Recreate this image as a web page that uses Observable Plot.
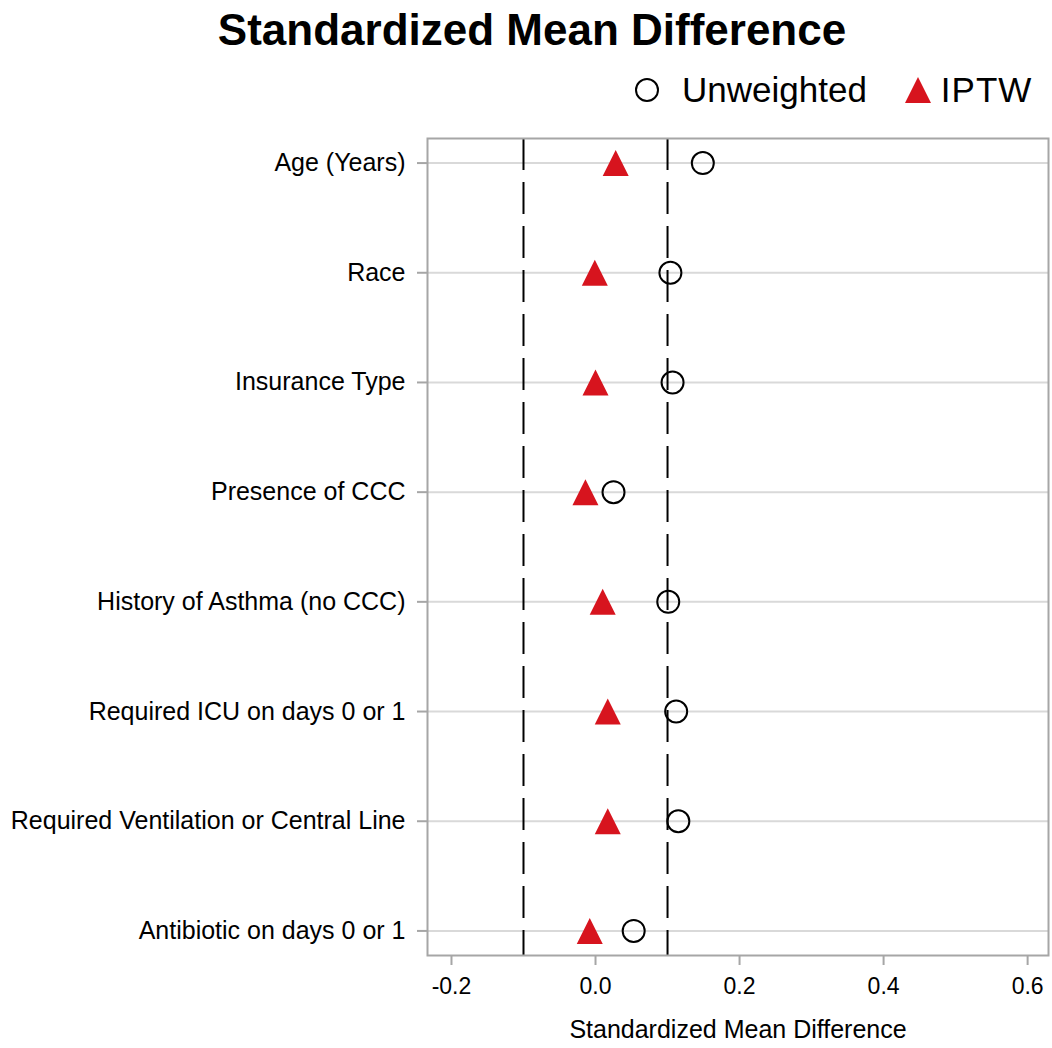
<!DOCTYPE html>
<html>
<head>
<meta charset="utf-8">
<script src="https://cdn.jsdelivr.net/npm/d3@7"></script>
<script src="https://cdn.jsdelivr.net/npm/@observablehq/plot@0.6"></script>
<style>
  html, body { margin: 0; padding: 0; background: #fff; }
  body { width: 1052px; height: 1048px; overflow: hidden; font-family: "Liberation Sans", Arial, sans-serif; }
  #title { position: absolute; left: 0; width: 1064px; top: 3px; text-align: center; font-weight: bold; font-size: 44px; line-height: 54px; color: #000; }
  #legend { position: absolute; left: 632px; top: 68px; height: 44px; display: flex; align-items: center; font-size: 35px; color: #000; }
  #legend .item { display: flex; align-items: center; }
  #legend svg { margin-right: 20px; }
  #chart { position: absolute; left: 0; top: 120px; }
</style>
</head>
<body>
<div id="title">Standardized Mean Difference</div>
<div id="legend">
  <div class="item"><svg width="30" height="30"><circle cx="15" cy="15" r="11" fill="none" stroke="#000" stroke-width="2"/></svg><span>Unweighted</span></div>
  <div class="item" style="margin-left:36px"><svg width="30" height="30"><path d="M15,2L28,28L2,28Z" fill="#d7141e"/></svg><span style="margin-left:-12px; letter-spacing:1px">IPTW</span></div>
</div>
<div id="chart"></div>
<script>
const categories = [
  "Age (Years)",
  "Race",
  "Insurance Type",
  "Presence of CCC",
  "History of Asthma (no CCC)",
  "Required ICU on days 0 or 1",
  "Required Ventilation or Central Line",
  "Antibiotic on days 0 or 1"
];
const unweighted = [0.149, 0.104, 0.107, 0.025, 0.101, 0.112, 0.115, 0.053];
const iptw = [0.028, -0.001, 0.000, -0.014, 0.010, 0.017, 0.017, -0.008];
const xTicks = [-0.2, 0.0, 0.2, 0.4, 0.6];
const refLines = [-0.1, 0.1];

const dataU = categories.map((c, i) => ({category: c, value: unweighted[i]}));
const dataI = categories.map((c, i) => ({category: c, value: iptw[i]}));

const triangleSymbol = {
  draw(context, size) {
    const r = Math.sqrt(size / Math.PI);
    context.moveTo(0, -r);
    context.lineTo(r, r);
    context.lineTo(-r, r);
    context.closePath();
  }
};

const chart = Plot.plot({
  width: 1052,
  height: 928,
  marginLeft: 427,
  marginRight: 4,
  marginTop: 18,
  marginBottom: 93,
  style: {fontFamily: "Liberation Sans, Arial, sans-serif", background: "#fff"},
  x: {domain: [-0.2333, 0.629]},
  y: {type: "point", domain: categories, padding: 0.224, round: false},
  marks: [
    Plot.gridY(categories, {stroke: "#d9d9d9", strokeOpacity: 1, strokeWidth: 2}),
    Plot.ruleX(refLines, {stroke: "#000", strokeWidth: 2, strokeDasharray: "32,12"}),
    Plot.frame({stroke: "#a6a6a6", strokeWidth: 2}),
    Plot.axisX({
      ticks: xTicks,
      tickFormat: d => d.toFixed(1),
      tickSize: 10,
      tickPadding: 12,
      stroke: "#a6a6a6",
      strokeWidth: 2,
      fill: "#000",
      fontSize: 23,
      label: null
    }),
    Plot.text(["Standardized Mean Difference"], {
      frameAnchor: "bottom", dy: 82, fontSize: 25, fill: "#000"
    }),
    Plot.axisY({
      tickSize: 10,
      tickPadding: 12,
      stroke: "#a6a6a6",
      strokeWidth: 2,
      fill: "#000",
      fontSize: 25,
      label: null
    }),
    Plot.dot(dataU, {x: "value", y: "category", r: 11, stroke: "#000", strokeWidth: 2, fill: "none", symbol: "circle"}),
    Plot.dot(dataI, {x: "value", y: "category", r: 13, fill: "#d7141e", stroke: "none", symbol: triangleSymbol})
  ]
});
document.getElementById("chart").appendChild(chart);
</script>
</body>
</html>
